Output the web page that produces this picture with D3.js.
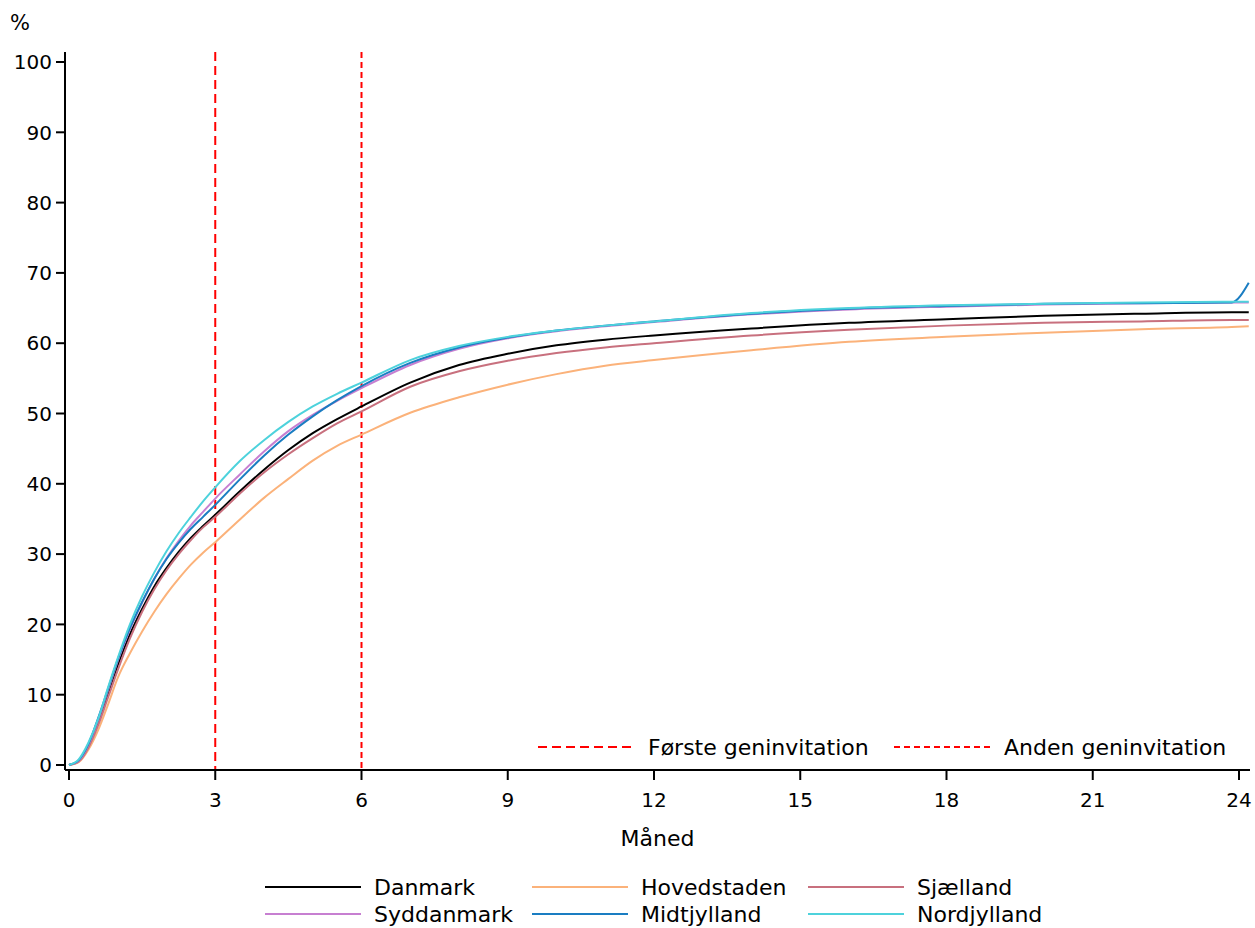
<!DOCTYPE html>
<html><head><meta charset="utf-8">
<script src="https://cdn.jsdelivr.net/npm/d3@7"></script>
<style>
html,body{margin:0;padding:0;background:#fff;}
text{font-family:"DejaVu Sans",sans-serif;fill:#000;}
</style></head>
<body><svg id="c" width="1255" height="928"></svg>
<script>
const months = [0,0.2,0.4,0.6,0.8,1,1.25,1.5,1.75,2,2.25,2.5,2.75,3,3.5,4,4.5,5,5.5,6,7,8,9,10,11,12,14,16,18,20,22,23.85,24.2];
const danmark     = [0,0.6,2.8,6.2,10.2,14.2,18.6,22.2,25.4,28.0,30.3,32.3,34.0,35.6,38.9,42.0,44.8,47.2,49.2,51.0,54.4,56.9,58.5,59.7,60.5,61.1,62.1,62.9,63.4,63.9,64.2,64.4,64.4];
const hovedstaden = [0,0.4,2.2,5.0,8.6,12.4,15.9,19.0,21.8,24.3,26.5,28.5,30.2,31.7,34.9,38.0,40.7,43.3,45.4,47.0,50.1,52.3,54.1,55.6,56.8,57.6,59.0,60.2,60.9,61.5,62.0,62.3,62.4];
const sjaelland   = [0,0.5,2.5,5.7,9.6,13.5,18.0,21.8,25.0,27.7,30.0,32.0,33.8,35.3,38.6,41.6,44.2,46.5,48.6,50.3,53.8,56.0,57.5,58.6,59.4,60.0,61.1,61.9,62.5,62.9,63.1,63.3,63.3];
const syddanmark  = [0,0.6,2.9,6.5,10.6,14.8,19.3,23.1,26.5,29.4,31.9,34.1,36.0,37.9,41.3,44.6,47.5,49.8,51.8,53.6,56.9,59.2,60.7,61.7,62.4,63.0,64.1,64.8,65.2,65.5,65.7,65.8,65.8];
const midtjylland = [0,0.7,3.0,6.7,10.8,15.0,19.5,23.2,26.5,29.3,31.6,33.6,35.3,37.0,40.6,44.0,47.0,49.6,51.9,53.9,57.2,59.4,60.8,61.8,62.5,63.1,64.2,64.9,65.3,65.6,65.7,65.8,68.6];
const nordjylland = [0,0.8,3.2,6.6,11.0,15.2,20.0,24.0,27.4,30.4,33.0,35.3,37.5,39.5,43.2,46.2,48.8,51.0,52.8,54.4,57.6,59.6,60.9,61.8,62.5,63.1,64.3,65.0,65.4,65.6,65.8,65.9,65.9];

const seriesNames  = ["Danmark","Hovedstaden","Sjælland","Syddanmark","Midtjylland","Nordjylland"];
const seriesValues = [danmark,hovedstaden,sjaelland,syddanmark,midtjylland,nordjylland];
const seriesColors = ["#000000","#fbb27a","#c8707e","#c77fd1","#1a7dc2","#4dd2dc"];

const xTicks = [0,3,6,9,12,15,18,21,24];
const yTicks = [0,10,20,30,40,50,60,70,80,90,100];
const refLines = [3,6];
const refNames = ["Første geninvitation","Anden geninvitation"];
const refDash = ["9,5","6,4"];

(function(){
const svg = d3.select("#c");
const x = d3.scaleLinear().domain([0,24]).range([69,1239]);
const y = d3.scaleLinear().domain([0,100]).range([765,62]);
const pL = 65, pR = 1250, pT = 52, pB = 770;

svg.append("defs").append("clipPath").attr("id","clip")
  .append("rect").attr("x",pL).attr("y",pT).attr("width",pR-pL).attr("height",pB-pT);

refLines.forEach((v,i)=>{
  svg.append("line").attr("x1",x(v)).attr("x2",x(v)).attr("y1",pT).attr("y2",pB)
    .attr("stroke","#ff0000").attr("stroke-width",2).attr("stroke-dasharray",refDash[i]);
});

const line = d3.line().x((d,i)=>x(months[i])).y(d=>y(d)).curve(d3.curveMonotoneX);
const g = svg.append("g").attr("clip-path","url(#clip)");
seriesValues.forEach((vals,i)=>{
  g.append("path").datum(vals).attr("d",line).attr("fill","none")
    .attr("stroke",seriesColors[i]).attr("stroke-width",2);
});

svg.append("line").attr("x1",pL).attr("x2",pL).attr("y1",pT).attr("y2",pB).attr("stroke","#000").attr("stroke-width",2);
svg.append("line").attr("x1",pL).attr("x2",pR).attr("y1",pB).attr("y2",pB).attr("stroke","#000").attr("stroke-width",2);
yTicks.forEach(t=>{
  svg.append("line").attr("x1",pL-9).attr("x2",pL).attr("y1",y(t)).attr("y2",y(t)).attr("stroke","#000").attr("stroke-width",2);
  svg.append("text").attr("x",pL-13).attr("y",y(t)).attr("dy","0.36em").attr("text-anchor","end")
    .style("font-size","20px").text(t);
});
xTicks.forEach(t=>{
  svg.append("line").attr("x1",x(t)).attr("x2",x(t)).attr("y1",pB).attr("y2",pB+10).attr("stroke","#000").attr("stroke-width",2);
  svg.append("text").attr("x",x(t)).attr("y",800).attr("dy","0.36em").attr("text-anchor","middle")
    .style("font-size","20px").text(t);
});
svg.append("text").attr("x",10).attr("y",22).attr("dy","0.36em").style("font-size","21px").text("%");
svg.append("text").attr("x",(pL+pR)/2).attr("y",838).attr("dy","0.36em").attr("text-anchor","middle")
  .style("font-size","22px").text("Måned");

const refLegX = [538,894];
refNames.forEach((n,i)=>{
  svg.append("line").attr("x1",refLegX[i]).attr("x2",refLegX[i]+98).attr("y1",747).attr("y2",747)
    .attr("stroke","#ff0000").attr("stroke-width",2).attr("stroke-dasharray",refDash[i]);
  svg.append("text").attr("x",refLegX[i]+110).attr("y",747).attr("dy","0.36em")
    .style("font-size","22px").text(n);
});

const colX = [265,532,808];
const rowY = [887,914];
seriesNames.forEach((n,i)=>{
  const cx = colX[i%3], cy = rowY[Math.floor(i/3)];
  svg.append("line").attr("x1",cx).attr("x2",cx+96).attr("y1",cy).attr("y2",cy)
    .attr("stroke",seriesColors[i]).attr("stroke-width",2);
  svg.append("text").attr("x",cx+109).attr("y",cy).attr("dy","0.36em")
    .style("font-size","22px").text(n);
});
})();
</script></body></html>
